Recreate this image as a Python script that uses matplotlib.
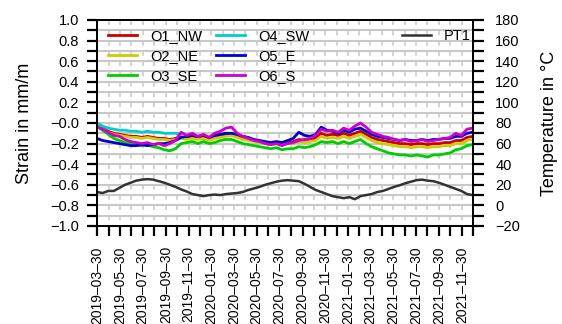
import matplotlib
matplotlib.use("Agg")
import matplotlib.pyplot as plt
import numpy as np
import pandas as pd

plt.rcParams['font.family'] = ['Liberation Sans', 'DejaVu Sans']
plt.rcParams['lines.scale_dashes'] = False

# samples every 15 days from 2019-03-30
dates = pd.date_range('2019-03-30', periods=68, freq='15D')

o1_nw = [-0.02, -0.05, -0.08, -0.10, -0.11, -0.12, -0.13, -0.13, -0.14, -0.13,
         -0.14, -0.15, -0.15, -0.16, -0.15, -0.14, -0.15, -0.14, -0.15, -0.14,
         -0.16, -0.14, -0.13, -0.12, -0.11, -0.13, -0.15, -0.16, -0.17, -0.18,
         -0.19, -0.20, -0.19, -0.20, -0.19, -0.18, -0.16, -0.17, -0.16, -0.15,
         -0.10, -0.12, -0.11, -0.12, -0.10, -0.12, -0.10, -0.08, -0.11, -0.14,
         -0.16, -0.17, -0.18, -0.19, -0.20, -0.20, -0.21, -0.20, -0.20, -0.21,
         -0.20, -0.20, -0.19, -0.19, -0.17, -0.17, -0.14, -0.13]
o2_ne = [-0.03, -0.06, -0.09, -0.11, -0.12, -0.13, -0.14, -0.14, -0.15, -0.14,
         -0.15, -0.16, -0.16, -0.17, -0.16, -0.15, -0.16, -0.15, -0.16, -0.15,
         -0.17, -0.15, -0.14, -0.13, -0.12, -0.14, -0.16, -0.17, -0.18, -0.19,
         -0.20, -0.21, -0.20, -0.21, -0.20, -0.20, -0.18, -0.19, -0.18, -0.17,
         -0.13, -0.15, -0.14, -0.15, -0.13, -0.15, -0.13, -0.11, -0.14, -0.17,
         -0.19, -0.20, -0.21, -0.22, -0.23, -0.23, -0.24, -0.23, -0.23, -0.24,
         -0.23, -0.23, -0.22, -0.22, -0.20, -0.20, -0.17, -0.16]
o3_se = [-0.03, -0.07, -0.11, -0.15, -0.17, -0.19, -0.20, -0.21, -0.22, -0.21,
         -0.23, -0.24, -0.26, -0.27, -0.25, -0.20, -0.19, -0.18, -0.20, -0.18,
         -0.20, -0.19, -0.17, -0.16, -0.16, -0.18, -0.20, -0.21, -0.22, -0.23,
         -0.24, -0.25, -0.24, -0.26, -0.25, -0.25, -0.23, -0.24, -0.23, -0.21,
         -0.18, -0.19, -0.18, -0.20, -0.18, -0.20, -0.18, -0.16, -0.20, -0.23,
         -0.25, -0.27, -0.29, -0.30, -0.31, -0.31, -0.32, -0.31, -0.32, -0.33,
         -0.31, -0.31, -0.30, -0.29, -0.26, -0.25, -0.22, -0.21]
# O4_SW only recorded until November 2019
o4_sw = [0.00, -0.03, -0.05, -0.06, -0.07, -0.07, -0.08, -0.08, -0.09, -0.08,
         -0.09, -0.09, -0.10, -0.10, -0.10, -0.11]
o5_e = [-0.15, -0.17, -0.18, -0.19, -0.20, -0.21, -0.22, -0.22, -0.21, -0.22,
        -0.21, -0.20, -0.20, -0.19, -0.17, -0.14, -0.13, -0.12, -0.13, -0.12,
        -0.14, -0.12, -0.11, -0.10, -0.10, -0.11, -0.13, -0.14, -0.16, -0.17,
        -0.18, -0.19, -0.18, -0.19, -0.17, -0.15, -0.09, -0.12, -0.13, -0.11,
        -0.04, -0.07, -0.08, -0.10, -0.07, -0.09, -0.06, -0.05, -0.08, -0.11,
        -0.13, -0.14, -0.15, -0.16, -0.17, -0.16, -0.17, -0.17, -0.16, -0.17,
        -0.16, -0.16, -0.15, -0.15, -0.13, -0.13, -0.10, -0.09]
o6_s = [-0.04, -0.06, -0.09, -0.12, -0.13, -0.16, -0.18, -0.19, -0.20, -0.19,
        -0.21, -0.20, -0.22, -0.20, -0.17, -0.09, -0.12, -0.10, -0.13, -0.11,
        -0.14, -0.10, -0.08, -0.05, -0.04, -0.10, -0.13, -0.15, -0.17, -0.18,
        -0.20, -0.21, -0.20, -0.22, -0.20, -0.19, -0.17, -0.16, -0.15, -0.12,
        -0.06, -0.08, -0.07, -0.09, -0.05, -0.07, -0.03, 0.00, -0.04, -0.09,
        -0.11, -0.13, -0.14, -0.16, -0.17, -0.16, -0.18, -0.17, -0.16, -0.18,
        -0.17, -0.16, -0.15, -0.14, -0.10, -0.12, -0.06, -0.05]
pt1 = [13, 12, 14, 14, 17, 20, 22, 24, 25, 25.5,
       25, 23.5, 22, 20, 18, 15.5, 13.5, 11, 10, 9,
       10, 10.5, 10, 11, 11.5, 12, 13, 15, 16.5, 18,
       20, 21.5, 23, 24, 24.5, 24, 23.5, 21, 18, 15,
       13, 11, 9, 8, 7, 8, 6, 9, 10, 11,
       13, 14, 16, 18, 19.5, 21.5, 23, 24.5, 25, 24,
       23.5, 22, 20, 18, 16, 14, 11, 10]

names = ['O1_NW', 'O2_NE', 'O3_SE', 'O4_SW', 'O5_E', 'O6_S']
colors = ['#cd0000', '#cdcd00', '#00cd00', '#00cdcd', '#0000cd', '#cd00cd']
series = [o1_nw, o2_ne, o3_se, o4_sw, o5_e, o6_s]

# monthly ticks on the 30th (end of Feb for February)
ticks = []
for i in range(34):
    y = 2019 + (2 + i) // 12
    m = (2 + i) % 12 + 1
    d = min(30, pd.Timestamp(y, m, 1).days_in_month)
    ticks.append(pd.Timestamp(y, m, d))

fig = plt.figure(figsize=(5.62, 3.24), dpi=100)
ax = fig.add_axes([0.1726, 0.3025, 0.669, 0.6358])

grid_c = '#c8c8c8'
for v in np.arange(-1.0, 1.01, 0.1):
    ax.axhline(v, color=grid_c, lw=1.5, zorder=0)
for t in ticks:
    ax.plot([t, t], [1.0, -1.0], color=grid_c, lw=1.1, dashes=[3.6, 3.8], zorder=0)

handles = []
for s, nm, c in zip(series, names, colors):
    h, = ax.plot(dates[:len(s)], s, color=c, lw=2.0, label=nm, zorder=2)
    handles.append(h)

ax.set_xlim(ticks[0], ticks[-1])
ax.set_ylim(-1.0, 1.0)
yt = np.round(np.arange(-1.0, 1.01, 0.1), 1)
ax.set_yticks(yt)
ax.set_yticklabels([('%.1f' % v).replace('-', '\u2212') if i % 2 == 0 else '' for i, v in enumerate(yt)])
ax.set_xticks(ticks)
ax.set_xticklabels([t.strftime('%Y-%m-%d').replace('-', '\u2013') if i % 2 == 0 else ''
                    for i, t in enumerate(ticks)], rotation=90)
ax.tick_params(axis='both', direction='out', length=7, width=1.6)
ax.tick_params(axis='y', pad=6, labelsize=10.5)
ax.tick_params(axis='x', pad=7.5, labelsize=10)
ax.set_ylabel('Strain in mm/m', fontsize=13, labelpad=12)

ax2 = ax.twinx()
h2, = ax2.plot(dates, pt1, color='#333333', lw=1.8, label='PT1')
ax2.set_ylim(-20, 180)
t2 = np.arange(-20, 181, 10)
ax2.set_yticks(t2)
ax2.set_yticklabels([str(v).replace('-', '\u2212') if i % 2 == 0 else '' for i, v in enumerate(t2)])
ax2.tick_params(axis='y', direction='out', length=8, width=1.6, labelsize=10.5, pad=8)
ax2.set_ylabel('Temperature in \u00b0C', fontsize=13, labelpad=15)

for a in (ax, ax2):
    for sp in a.spines.values():
        sp.set_linewidth(1.4)
        sp.set_color('black')

ax.legend(handles=handles, ncol=2, frameon=False, loc='upper left',
          bbox_to_anchor=(0.03, 0.955), fontsize=10.5, handlelength=2.0,
          handletextpad=0.9, columnspacing=0.9, labelspacing=0.42,
          borderaxespad=0, borderpad=0)
ax2.legend(handles=[h2], frameon=False, loc='upper left',
           bbox_to_anchor=(0.81, 0.955), fontsize=10.5, handlelength=2.0,
           handletextpad=0.9, borderaxespad=0, borderpad=0)

fig.savefig('out.png', dpi=100)
